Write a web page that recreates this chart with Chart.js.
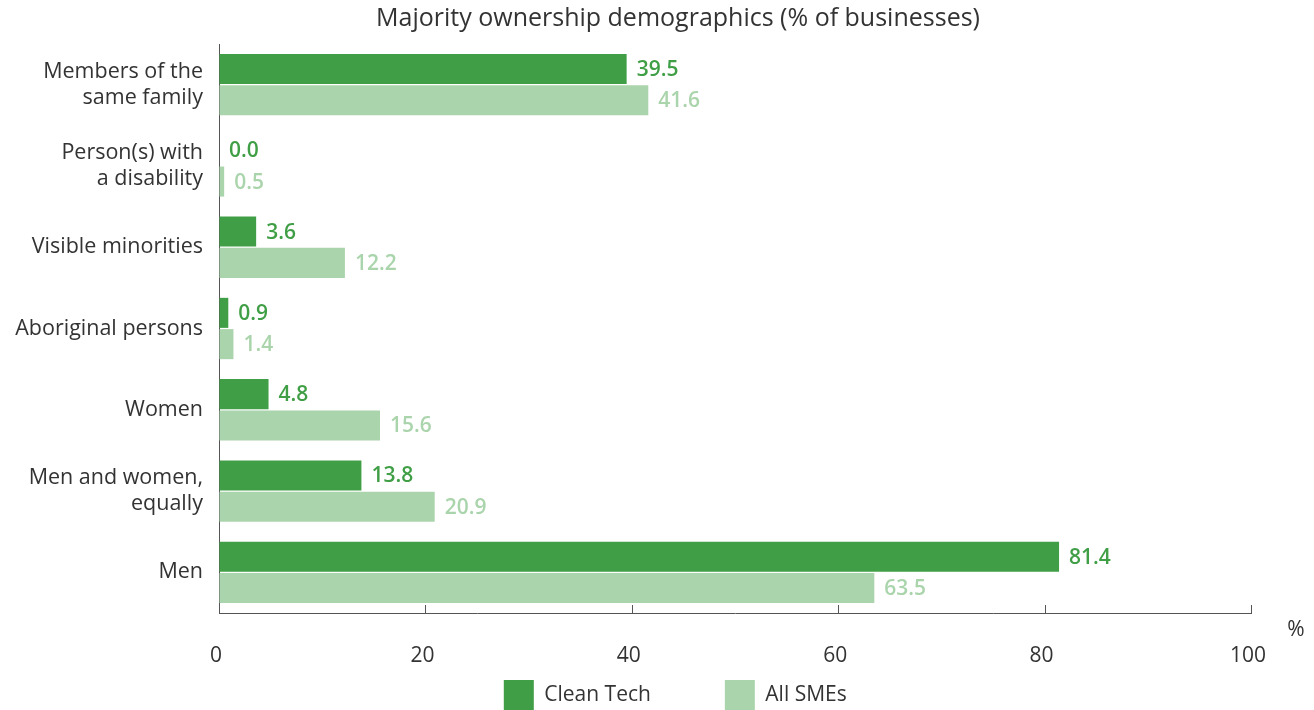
<!DOCTYPE html>
<html lang="en">
<head>
<meta charset="UTF-8">
<title>Majority ownership demographics</title>
<script src="https://cdn.jsdelivr.net/npm/chart.js"></script>
<style>
    html, body { margin: 0; padding: 0; background: #fff; overflow: hidden; }
    /* slightly larger than the page: title and legend sit right of centre,
       legend keys reach the bottom edge */
    .wrap { width: 1356px; height: 720px; }
</style>
</head>
<body>
<div class="wrap"><canvas id="ownership"></canvas></div>
<script>
const categories = [
    ['Members of the', 'same family'],
    ['Person(s) with', 'a disability'],
    'Visible minorities',
    'Aboriginal persons',
    'Women',
    ['Men and women,', 'equally'],
    'Men'
];
const cleanTech = [39.5, 0.0, 3.6, 0.9, 4.8, 13.8, 81.4];
const allSmes = [41.6, 0.5, 12.2, 1.4, 15.6, 20.9, 63.5];
const seriesNames = ['Clean Tech', 'All SMEs'];

const DARK = '#409f46';
const LIGHT = '#aad4ab';
const TEXT = '#333';
const FONT = '"Open Sans", sans-serif';

// numbers printed just past the end of each bar
const valueLabels = {
    id: 'valueLabels',
    afterDatasetsDraw(chart) {
        const ctx = chart.ctx;
        ctx.save();
        ctx.font = '600 21px ' + FONT;
        ctx.textAlign = 'left';
        ctx.textBaseline = 'middle';
        chart.data.datasets.forEach((ds, i) => {
            ctx.fillStyle = ds.backgroundColor;
            chart.getDatasetMeta(i).data.forEach((bar, j) => {
                ctx.fillText(ds.data[j].toFixed(1), bar.x + 10, bar.y + 1);
            });
        });
        ctx.restore();
    }
};

// short tick marks pointing up into the plot, plus the unit sign
const axisExtras = {
    id: 'axisExtras',
    afterDraw(chart) {
        const ctx = chart.ctx;
        const area = chart.chartArea;
        const xs = chart.scales.x;
        ctx.save();
        ctx.strokeStyle = '#555';
        ctx.lineWidth = 1;
        xs.ticks.forEach(t => {
            if (t.value === 0) return;
            const px = Math.round(xs.getPixelForValue(t.value)) + 0.5;
            ctx.beginPath();
            ctx.moveTo(px, area.bottom);
            ctx.lineTo(px, area.bottom - 8);
            ctx.stroke();
        });
        ctx.font = '21px ' + FONT;
        ctx.fillStyle = TEXT;
        ctx.textAlign = 'center';
        ctx.textBaseline = 'middle';
        ctx.fillText('%', area.right + 45, area.bottom + 17);
        ctx.restore();
    }
};

new Chart(document.getElementById('ownership'), {
    type: 'bar',
    data: {
        labels: categories,
        datasets: [
            { label: seriesNames[0], data: cleanTech, backgroundColor: DARK,
              categoryPercentage: 0.77, barPercentage: 0.96 },
            { label: seriesNames[1], data: allSmes, backgroundColor: LIGHT,
              categoryPercentage: 0.77, barPercentage: 0.96 }
        ]
    },
    options: {
        indexAxis: 'y',
        responsive: true,
        maintainAspectRatio: false,
        animation: false,
        plugins: {
            title: {
                display: true,
                text: 'Majority ownership demographics (% of businesses)',
                color: TEXT,
                font: { family: FONT, size: 25, weight: 'normal' },
                padding: { top: 4, bottom: 10 }
            },
            legend: {
                position: 'bottom',
                labels: {
                    boxWidth: 30,
                    boxHeight: 30,
                    padding: 3,
                    color: TEXT,
                    font: { family: FONT, size: 21 },
                    generateLabels(chart) {
                        const items = Chart.defaults.plugins.legend.labels.generateLabels(chart);
                        // trailing room after the first entry keeps the two keys apart
                        items[0].text += ' '.repeat(13);
                        items[1].text += ' ';
                        return items;
                    }
                }
            },
            tooltip: { enabled: false }
        },
        scales: {
            x: {
                min: 0,
                max: 100,
                ticks: { stepSize: 20, padding: 30, labelOffset: -3, color: TEXT,
                         font: { family: FONT, size: 21 } },
                grid: { drawOnChartArea: false, drawTicks: false },
                border: { color: '#555' },
                afterFit(scale) { scale.height = 64; }
            },
            y: {
                ticks: { padding: 16, color: TEXT, font: { family: FONT, size: 21.5, lineHeight: 1.2 } },
                grid: { drawOnChartArea: false, drawTicks: false },
                border: { color: '#555' },
                afterFit(scale) { scale.width = 219; }
            },
            // blank strip on the right that leaves room for the % sign
            yRight: {
                type: 'category',
                position: 'right',
                labels: categories,
                ticks: { display: false },
                grid: { display: false },
                border: { display: false },
                afterFit(scale) { scale.width = 105; }
            }
        }
    },
    plugins: [valueLabels, axisExtras]
});
</script>
</body>
</html>
